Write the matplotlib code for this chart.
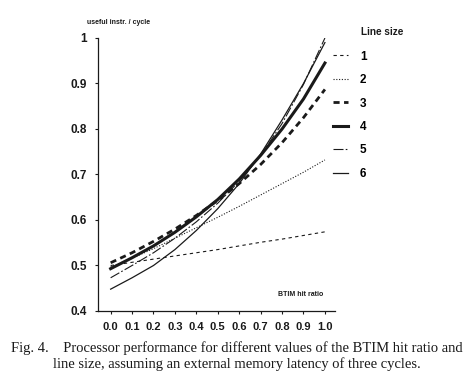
import matplotlib
matplotlib.use("Agg")
from matplotlib import pyplot as plt
import numpy as np

# BTIM hit ratio
hit_ratio = [0.0, 0.1, 0.2, 0.3, 0.4, 0.5, 0.6, 0.7, 0.8, 0.9, 1.0]

# useful instr. / cycle, one list per line size
size1 = [0.500, 0.507, 0.514, 0.521, 0.528, 0.535, 0.543, 0.551, 0.558, 0.566, 0.574]
size2 = [0.497, 0.516, 0.537, 0.560, 0.583, 0.606, 0.630, 0.655, 0.680, 0.705, 0.732]
size3 = [0.506, 0.528, 0.553, 0.580, 0.610, 0.643, 0.680, 0.722, 0.770, 0.825, 0.887]
size4 = [0.493, 0.517, 0.543, 0.573, 0.607, 0.645, 0.690, 0.742, 0.800, 0.866, 0.945]
size5 = [0.473, 0.500, 0.528, 0.560, 0.596, 0.637, 0.685, 0.742, 0.812, 0.898, 1.000]
size6 = [0.448, 0.473, 0.500, 0.535, 0.577, 0.625, 0.680, 0.745, 0.820, 0.900, 0.990]

line_labels = ["1", "2", "3", "4", "5", "6"]
y_ticks = [0.4, 0.5, 0.6, 0.7, 0.8, 0.9, 1.0]
y_ticklabels = ["0.4", "0.5", "0.6", "0.7", "0.8", "0.9", "1"]
x_ticklabels = ["%.1f" % v for v in hit_ratio]

plt.rcParams["font.family"] = "Liberation Sans"
ink = "#1a1a1a"

fig = plt.figure(figsize=(4.68, 3.83), dpi=100)
ax = fig.add_axes([0.2094, 0.188, 0.5064, 0.7128])

styles = [
    dict(lw=0.8, ls=(0, (3, 3))),
    dict(lw=0.8, ls=(0, (1, 1.5))),
    dict(lw=2.0, ls=(0, (2.2, 1.6))),
    dict(lw=2.2, ls="-"),
    dict(lw=0.8, ls=(0, (9, 2, 1.5, 2))),
    dict(lw=0.9, ls="-"),
]
series = [size1, size2, size3, size4, size5, size6]
handles = []
for vals, st, lab in zip(series, styles, line_labels):
    h, = ax.plot(hit_ratio, vals, color=ink, label=lab, **st)
    handles.append(h)

ax.set_xlim(-0.059, 1.047)
ax.set_ylim(0.4, 1.0)
ax.set_xticks(hit_ratio)
ax.set_xticklabels(x_ticklabels)
ax.set_yticks(y_ticks)
ax.set_yticklabels(y_ticklabels)
for s in ["top", "right"]:
    ax.spines[s].set_visible(False)
for s in ["left", "bottom"]:
    ax.spines[s].set_color(ink)
    ax.spines[s].set_linewidth(0.9)
ax.tick_params(direction="out", length=2, width=0.8, colors=ink, pad=6)
for t in ax.get_xticklabels():
    t.set_fontsize(8)
    t.set_fontweight("bold")
for t in ax.get_yticklabels():
    t.set_fontsize(8.5)
    t.set_fontweight("bold")

fig.text(87 / 468, 1 - 23 / 383, "useful instr. / cycle", fontsize=5,
         fontweight="bold", color=ink, va="center", ha="left")
fig.text(278 / 468, 1 - 295 / 383, "BTIM hit ratio", fontsize=5,
         fontweight="bold", color=ink, va="center", ha="left")
fig.text(361 / 468, 1 - 32 / 383, "Line size", fontsize=7.2,
         fontweight="bold", color=ink, va="center", ha="left")

leg = fig.legend(handles=handles, loc="upper left",
                 bbox_to_anchor=(322 / 468, 1 - 40 / 383), frameon=False,
                 handlelength=1.3, handletextpad=1.0, labelspacing=0.97,
                 prop=dict(size=8.5, weight="bold"))

caption = ("Fig. 4.    Processor performance for different values of the BTIM hit ratio and\n"
           "line size, assuming an external memory latency of three cycles.")
fig.text(0.507, 1 - 356 / 383, caption, fontsize=10.5, family="Liberation Serif",
         ha="center", va="center", linespacing=1.2, color=ink)

plt.savefig("out.png", dpi=100)
